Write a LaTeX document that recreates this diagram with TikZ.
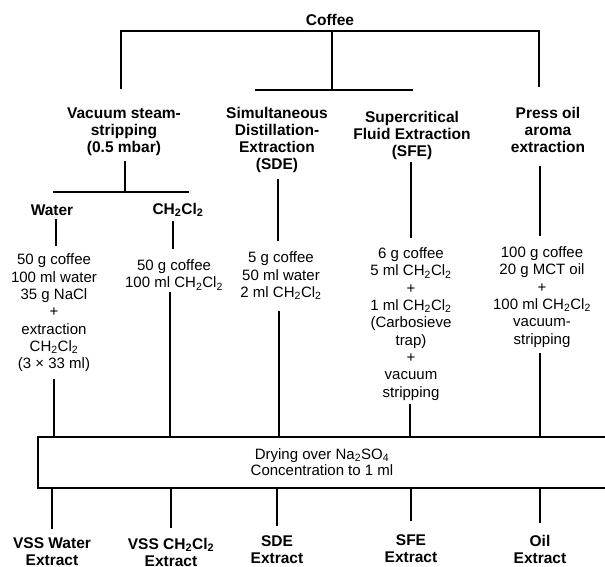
\documentclass[tikz,border=0pt]{standalone}
\usepackage{fontspec}
\setmainfont{Liberation Sans}
\newcommand{\ChCl}{CH\textsubscript{2}Cl\textsubscript{2}}
\begin{document}
\begin{tikzpicture}[x=1pt,y=-1pt,
  ln/.style={line width=1.1pt, line cap=rect},
  hd/.style={font=\fontsize{15.5}{17}\selectfont\bfseries, align=center, inner sep=0pt},
  tx/.style={font=\fontsize{15}{17.3}\selectfont, align=center, inner sep=0pt}]
\useasboundingbox (0,0) rectangle (605,566);
% titles
\node[hd] (coffee) at (330,20) {Coffee};
\node[hd] (vss) at (124,132) {Vacuum steam-\\stripping\\(0.5 mbar)};
\node[hd] (sde) at (277,140) {Simultaneous\\Distillation-\\Extraction\\(SDE)};
\node[hd] (sfe) at (412,135) {Supercritical\\Fluid Extraction\\(SFE)};
\node[hd] (press) at (548,130) {Press oil\\aroma\\extraction};
\node[hd] (water) at (52,210) {Water};
\node[hd] (dcm) at (178,210) {\ChCl};
% recipe blocks
\node[tx] (wblk) at (54,313) {50 g coffee\\100 ml water\\35 g NaCl\\+\\extraction\\\ChCl\\(3 × 33 ml)};
\node[tx] (dblk) at (174,275) {50 g coffee\\100 ml \ChCl};
\node[tx] (sblk) at (281,276) {5 g coffee\\50 ml water\\2 ml \ChCl};
\node[tx] (fblk) at (411,324) {6 g coffee\\5 ml \ChCl\\+\\1 ml \ChCl\\(Carbosieve\\trap)\\+\\vacuum\\stripping};
\node[tx] (pblk) at (542,297) {100 g coffee\\20 g MCT oil\\+\\100 ml \ChCl\\vacuum-\\stripping};
\node[tx, font=\fontsize{15}{16.5}\selectfont] (dry) at (322,462) {Drying over Na\textsubscript{2}SO\textsubscript{4}\\Concentration to 1 ml};
% outputs
\node[hd] (o1) at (52,552) {VSS Water\\Extract};
\node[hd] (o2) at (171,552) {VSS \ChCl\\Extract};
\node[hd] (o3) at (277,550) {SDE\\Extract};
\node[hd] (o4) at (411,549) {SFE\\Extract};
\node[hd] (o5) at (540,549) {Oil\\Extract};
% tree coordinates
\coordinate (tl) at (121,31);
\coordinate (tm) at (332,31);
\coordinate (tr) at (539,31);
\coordinate (lb) at (121,88);
\coordinate (mb) at (332,90);
\coordinate (rb) at (539,86);
\coordinate (mhl) at (256,90);
\coordinate (mhr) at (412,90);
\draw[ln] (lb) -- (tl) -- (tr) -- (rb);
\draw[ln] (tm) -- (mb);
\draw[ln] (mhl) -- (mhr);
% VSS split
\coordinate (v1) at (125,162);
\coordinate (v2) at (125,192);
\coordinate (vl) at (54,192);
\coordinate (vr) at (188,192);
\draw[ln] (v1) -- (v2);
\draw[ln] (vl) -- (vr);
\coordinate (w1) at (56,220);
\coordinate (w2) at (56,245);
\coordinate (c1) at (173,222);
\coordinate (c2) at (173,248);
\draw[ln] (w1) -- (w2);
\draw[ln] (c1) -- (c2);
% method verticals
\coordinate (s1) at (278,180);
\coordinate (s2) at (278,240);
\coordinate (f1) at (411,163);
\coordinate (f2) at (411,237);
\coordinate (p1) at (540,167);
\coordinate (p2) at (540,235);
\draw[ln] (s1) -- (s2);
\draw[ln] (f1) -- (f2);
\draw[ln] (p1) -- (p2);
% box
\coordinate (bTR) at (605,437);
\coordinate (bTL) at (38,437);
\coordinate (bBL) at (38,488);
\coordinate (bBR) at (605,488);
\draw[ln, line cap=butt] (bTR) -- (bTL) -- (bBL) -- (bBR);
% into box
\draw[ln] (54,380) -- (54,437);
\draw[ln] (170,293) -- (170,437);
\draw[ln] (279,312) -- (279,437);
\draw[ln] (410,405) -- (410,437);
\draw[ln] (540,354) -- (540,437);
% out of box
\draw[ln] (52,488) -- (52,528);
\draw[ln] (171,488) -- (171,527);
\draw[ln] (277,488) -- (277,525);
\draw[ln] (411,488) -- (411,520);
\draw[ln] (540,488) -- (540,522);
\end{tikzpicture}
\end{document}
